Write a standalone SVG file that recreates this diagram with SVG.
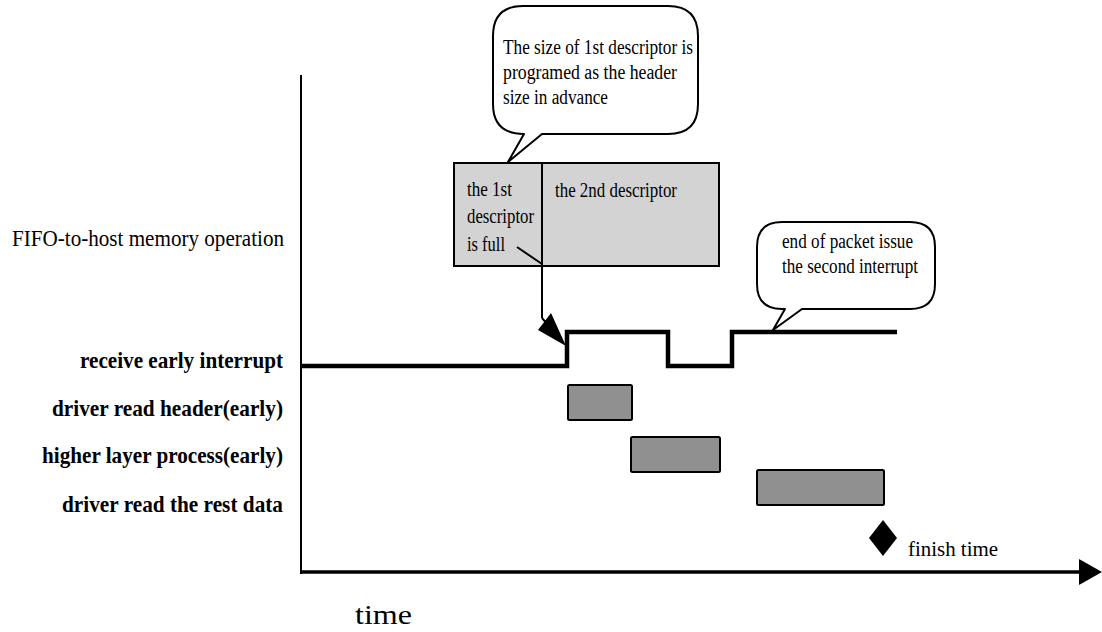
<svg xmlns="http://www.w3.org/2000/svg" width="1102" height="632" viewBox="0 0 1102 632">
<style>
.t{font-family:"Liberation Serif","Times New Roman",serif;font-size:20px;fill:#000}
.l{font-size:23px}
.b{font-weight:bold}
.ln{stroke:#000;fill:none}
.bar{fill:#909090;stroke:#000;stroke-width:2}
.bub{fill:#fff;stroke:#000;stroke-width:2;stroke-linejoin:round}
</style>
<rect width="1102" height="632" fill="#fff"/>
<g id="axes">
<line class="ln" x1="301" y1="75" x2="301" y2="574" stroke-width="2"/>
<line class="ln" x1="300" y1="572" x2="1082" y2="572" stroke-width="3.5"/>
<polygon points="1079,559 1102,572 1079,585" fill="#000"/>
</g>
<g id="labels">
<text class="t l" x="12" y="246" textLength="272" lengthAdjust="spacingAndGlyphs">FIFO-to-host memory operation</text>
<text class="t l b" x="80" y="368" textLength="203" lengthAdjust="spacingAndGlyphs">receive early interrupt</text>
<text class="t l b" x="52" y="416" textLength="231" lengthAdjust="spacingAndGlyphs">driver read header(early)</text>
<text class="t l b" x="42" y="463" textLength="241" lengthAdjust="spacingAndGlyphs">higher layer process(early)</text>
<text class="t l b" x="62" y="512" textLength="221" lengthAdjust="spacingAndGlyphs">driver read the rest data</text>
<text class="t" x="355" y="624" style="font-size:27px" textLength="57" lengthAdjust="spacingAndGlyphs">time</text>
</g>
<g id="descriptor-box">
<rect x="454" y="163" width="265" height="103" fill="#d3d3d3" stroke="#000" stroke-width="2"/>
<text class="t" x="467" y="196" textLength="45" lengthAdjust="spacingAndGlyphs">the 1st</text>
<text class="t" x="467" y="223" textLength="67" lengthAdjust="spacingAndGlyphs">descriptor</text>
<text class="t" x="467" y="251" textLength="38" lengthAdjust="spacingAndGlyphs">is full</text>
<text class="t" x="555" y="197" textLength="122" lengthAdjust="spacingAndGlyphs">the 2nd descriptor</text>
</g>
<g id="signal">
<polyline class="ln" stroke-width="4.5" points="301,366 567,366 567,332 668,332 668,366 732,366 732,332 897,332"/>
</g>
<g id="bars">
<rect class="bar" x="568" y="385" width="64" height="35" rx="1.5"/>
<rect class="bar" x="631" y="437" width="89" height="35" rx="1.5"/>
<rect class="bar" x="757" y="470" width="127" height="35" rx="1.5"/>
</g>
<g id="finish">
<polygon points="883,520 897,538 883,556 869,538" fill="#000"/>
<text class="t" x="908" y="556" textLength="90" lengthAdjust="spacingAndGlyphs">finish time</text>
</g>
<g id="bubble1">
<path class="bub" d="M524,134 L508,162 L542,134 L668,134 Q698,134 698,104 L698,36 Q698,6 668,6 L523,6 Q493,6 493,36 L493,104 Q493,134 524,134 Z"/>
<text class="t" x="503" y="54" textLength="190" lengthAdjust="spacingAndGlyphs">The size of 1st descriptor is</text>
<text class="t" x="503" y="79" textLength="174" lengthAdjust="spacingAndGlyphs">programed as the header</text>
<text class="t" x="503" y="104" textLength="105" lengthAdjust="spacingAndGlyphs">size in advance</text>
</g>
<g id="bubble2">
<path class="bub" d="M785,309 L773,330 L802,309 L910,309 Q935,309 935,284 L935,247 Q935,222 910,222 L782,222 Q757,222 757,247 L757,284 Q757,309 782,309 Z"/>
<text class="t" x="782" y="248" textLength="131" lengthAdjust="spacingAndGlyphs">end of packet issue</text>
<text class="t" x="782" y="273" textLength="136" lengthAdjust="spacingAndGlyphs">the second interrupt</text>
</g>
<g id="connectors">
<line class="ln" x1="542" y1="163" x2="542" y2="318" stroke-width="2"/>
<line class="ln" x1="542" y1="318" x2="548" y2="325" stroke-width="2"/>
<polygon points="551,313 538,330 566,346" fill="#000"/>
<line class="ln" x1="517" y1="247" x2="542" y2="264" stroke-width="2"/>
</g>
</svg>
